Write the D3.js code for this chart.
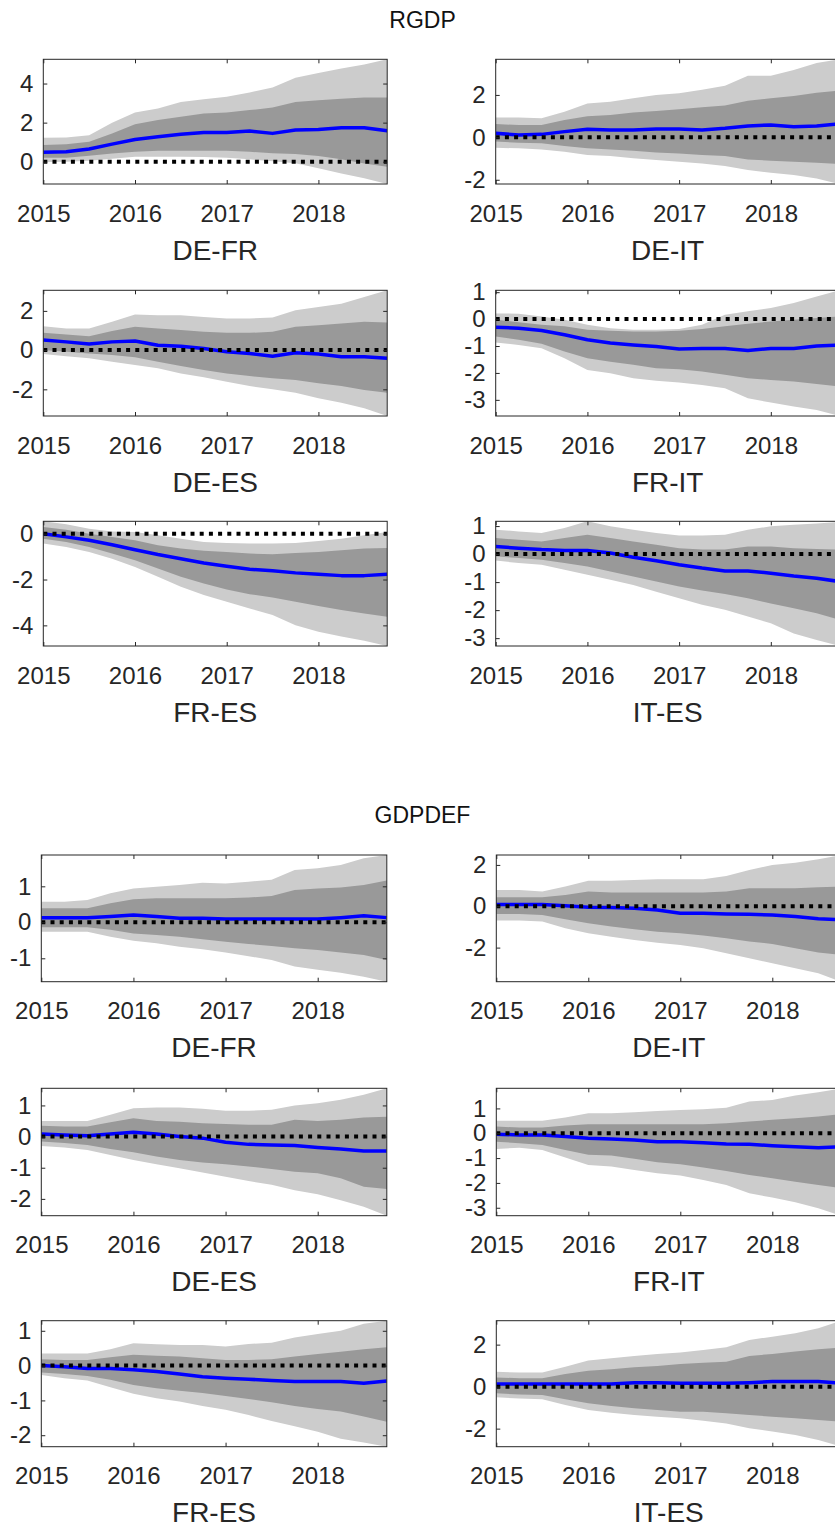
<!DOCTYPE html>
<html><head><meta charset="utf-8">
<script src="https://cdn.jsdelivr.net/npm/d3@7"></script>
<style>
body{margin:0;background:#fff}
svg{display:block}
text{font-family:"Liberation Sans",Arial,Helvetica,sans-serif}
</style>
</head><body>
<svg id="c" width="835" height="1529"></svg>
<script>
// ---------------- DATA ----------------
const quarters = [2015,2015.25,2015.5,2015.75,2016,2016.25,2016.5,2016.75,2017,2017.25,2017.5,2017.75,2018,2018.25,2018.5,2018.75];
const xTicks = [2015,2016,2017,2018];
const variables = ["RGDP","GDPDEF"];
const pairs = ["DE-FR","DE-IT","DE-ES","FR-IT","FR-ES","IT-ES"];
const RGDP_yTicks = [[0,2,4],[-2,0,2],[-2,0,2],[-3,-2,-1,0,1],[-4,-2,0],[-3,-2,-1,0,1]];
const GDPDEF_yTicks = [[-1,0,1],[-2,0,2],[-2,-1,0,1],[-3,-2,-1,0,1],[-2,-1,0,1],[-2,0,2]];

// RGDP DE-FR
const RGDP_DEFR_hi90 = [1.22,1.24,1.36,1.99,2.52,2.72,3.06,3.2,3.32,3.54,3.8,4.3,4.54,4.77,4.97,5.24];
const RGDP_DEFR_hi68 = [0.85,0.9,1.02,1.45,1.92,2.13,2.3,2.47,2.52,2.64,2.77,3.06,3.15,3.22,3.28,3.28];
const RGDP_DEFR_med  = [0.48,0.51,0.65,0.9,1.14,1.28,1.4,1.5,1.5,1.57,1.45,1.62,1.65,1.74,1.74,1.58];
const RGDP_DEFR_lo68 = [0.2,0.2,0.3,0.42,0.51,0.56,0.56,0.56,0.56,0.51,0.43,0.39,0.29,0.12,-0.09,-0.26];
const RGDP_DEFR_lo90 = [-0.02,0.0,0.05,0.15,0.25,0.26,0.26,0.24,0.2,0.12,0.02,-0.08,-0.34,-0.6,-0.85,-1.14];
// RGDP DE-IT
const RGDP_DEIT_hi90 = [0.94,0.94,0.9,1.21,1.6,1.68,1.84,2.0,2.08,2.24,2.43,2.9,2.9,3.18,3.5,3.68];
const RGDP_DEIT_hi68 = [0.63,0.58,0.58,0.82,1.0,1.05,1.17,1.24,1.32,1.42,1.5,1.72,1.84,1.95,2.1,2.2];
const RGDP_DEIT_med  = [0.19,0.11,0.14,0.27,0.38,0.35,0.35,0.39,0.39,0.35,0.43,0.54,0.58,0.5,0.54,0.63];
const RGDP_DEIT_lo68 = [-0.2,-0.25,-0.28,-0.41,-0.52,-0.57,-0.63,-0.71,-0.76,-0.83,-0.88,-1.04,-1.1,-1.15,-1.2,-1.26];
const RGDP_DEIT_lo90 = [-0.49,-0.52,-0.57,-0.68,-0.83,-0.88,-0.99,-1.07,-1.15,-1.23,-1.35,-1.54,-1.67,-1.78,-1.94,-2.2];
// RGDP DE-ES
const RGDP_DEES_hi90 = [1.22,1.1,1.1,1.44,1.81,1.78,1.78,1.69,1.61,1.61,1.66,2.03,2.2,2.37,2.71,3.05];
const RGDP_DEES_hi68 = [0.88,0.8,0.71,0.97,1.19,1.1,1.02,0.93,0.88,0.88,0.93,1.19,1.27,1.36,1.44,1.41];
const RGDP_DEES_med  = [0.51,0.42,0.31,0.42,0.46,0.25,0.2,0.08,-0.08,-0.17,-0.31,-0.14,-0.2,-0.34,-0.34,-0.42];
const RGDP_DEES_lo68 = [0,-0.08,-0.17,-0.25,-0.37,-0.59,-0.81,-1.02,-1.19,-1.32,-1.44,-1.53,-1.69,-1.83,-2.03,-2.17];
const RGDP_DEES_lo90 = [-0.2,-0.31,-0.42,-0.59,-0.76,-0.93,-1.19,-1.39,-1.61,-1.83,-2.0,-2.17,-2.46,-2.68,-2.97,-3.36];
// RGDP FR-IT
const RGDP_FRIT_hi90 = [0.21,0.2,0.1,-0.02,-0.21,-0.34,-0.4,-0.4,-0.37,-0.21,0.16,0.29,0.41,0.6,0.84,1.07];
const RGDP_FRIT_hi68 = [-0.02,-0.12,-0.21,-0.27,-0.4,-0.43,-0.46,-0.46,-0.43,-0.37,-0.27,-0.17,-0.09,-0.02,0.04,0.1];
const RGDP_FRIT_med  = [-0.3,-0.34,-0.42,-0.58,-0.77,-0.89,-0.96,-1.02,-1.11,-1.09,-1.09,-1.17,-1.09,-1.09,-1.0,-0.96];
const RGDP_FRIT_lo68 = [-0.65,-0.77,-0.92,-1.2,-1.45,-1.58,-1.7,-1.83,-1.86,-1.95,-2.07,-2.2,-2.26,-2.32,-2.41,-2.51];
const RGDP_FRIT_lo90 = [-0.87,-0.96,-1.08,-1.45,-1.89,-2.01,-2.2,-2.29,-2.36,-2.45,-2.57,-2.94,-3.1,-3.25,-3.38,-3.6];
// RGDP FR-ES
const RGDP_FRES_hi90 = [0.54,0.41,0.22,0.1,0.07,-0.07,-0.22,-0.36,-0.41,-0.43,-0.43,-0.41,-0.32,-0.22,-0.07,0.07];
const RGDP_FRES_hi68 = [0.29,0.17,0,-0.14,-0.29,-0.51,-0.65,-0.75,-0.8,-0.87,-0.9,-0.84,-0.8,-0.72,-0.65,-0.62];
const RGDP_FRES_med  = [0,-0.14,-0.29,-0.48,-0.7,-0.91,-1.09,-1.28,-1.42,-1.55,-1.62,-1.71,-1.77,-1.83,-1.83,-1.77];
const RGDP_FRES_lo68 = [-0.22,-0.36,-0.58,-0.87,-1.16,-1.52,-1.88,-2.17,-2.43,-2.64,-2.78,-2.97,-3.16,-3.33,-3.48,-3.62];
const RGDP_FRES_lo90 = [-0.43,-0.58,-0.8,-1.09,-1.45,-1.88,-2.32,-2.68,-2.97,-3.26,-3.55,-3.99,-4.28,-4.49,-4.67,-4.9];
// RGDP IT-ES
const RGDP_ITES_hi90 = [0.87,0.81,0.75,0.93,1.17,0.99,0.87,0.75,0.66,0.66,0.69,0.87,0.99,1.05,1.09,1.15];
const RGDP_ITES_hi68 = [0.57,0.51,0.45,0.57,0.69,0.57,0.45,0.33,0.21,0.16,0.16,0.27,0.27,0.21,0.18,0.16];
const RGDP_ITES_med  = [0.27,0.21,0.16,0.13,0.13,0.04,-0.11,-0.24,-0.38,-0.5,-0.6,-0.6,-0.68,-0.78,-0.86,-0.98];
const RGDP_ITES_lo68 = [-0.08,-0.14,-0.2,-0.32,-0.44,-0.62,-0.8,-0.98,-1.16,-1.3,-1.42,-1.58,-1.76,-1.93,-2.11,-2.35];
const RGDP_ITES_lo90 = [-0.23,-0.32,-0.38,-0.56,-0.74,-0.92,-1.1,-1.34,-1.58,-1.81,-1.99,-2.23,-2.47,-2.83,-3.07,-3.28];
// GDPDEF DE-FR
const GDPDEF_DEFR_hi90 = [0.57,0.57,0.62,0.81,0.94,0.99,1.04,1.1,1.08,1.13,1.18,1.45,1.5,1.59,1.78,1.87];
const GDPDEF_DEFR_hi68 = [0.39,0.39,0.39,0.53,0.64,0.67,0.67,0.67,0.67,0.69,0.73,0.9,0.94,0.97,1.04,1.16];
const GDPDEF_DEFR_med  = [0.13,0.13,0.13,0.16,0.2,0.16,0.11,0.11,0.09,0.09,0.09,0.09,0.09,0.13,0.18,0.13];
const GDPDEF_DEFR_lo68 = [-0.14,-0.14,-0.14,-0.21,-0.31,-0.35,-0.4,-0.47,-0.54,-0.6,-0.66,-0.72,-0.77,-0.84,-0.91,-1.05];
const GDPDEF_DEFR_lo90 = [-0.26,-0.26,-0.26,-0.4,-0.51,-0.58,-0.68,-0.75,-0.84,-0.94,-1.05,-1.23,-1.32,-1.4,-1.51,-1.65];
// GDPDEF DE-IT
const GDPDEF_DEIT_hi90 = [0.79,0.79,0.71,0.95,1.24,1.24,1.27,1.31,1.31,1.31,1.47,1.76,2.0,2.11,2.27,2.48];
const GDPDEF_DEIT_hi68 = [0.44,0.44,0.44,0.55,0.71,0.66,0.66,0.66,0.66,0.66,0.71,0.87,0.87,0.87,0.92,0.95];
const GDPDEF_DEIT_med  = [0.08,0.08,0.08,0.02,-0.05,-0.06,-0.1,-0.18,-0.34,-0.34,-0.37,-0.39,-0.42,-0.5,-0.6,-0.66];
const GDPDEF_DEIT_lo68 = [-0.37,-0.37,-0.42,-0.63,-0.82,-0.98,-1.11,-1.23,-1.31,-1.42,-1.55,-1.71,-1.82,-2.03,-2.24,-2.35];
const GDPDEF_DEIT_lo90 = [-0.69,-0.69,-0.74,-1.06,-1.31,-1.47,-1.63,-1.76,-1.87,-2.03,-2.27,-2.52,-2.76,-3.0,-3.24,-3.65];
// GDPDEF DE-ES
const GDPDEF_DEES_hi90 = [0.5,0.5,0.5,0.7,0.91,0.93,0.93,0.89,0.83,0.83,0.86,1.0,1.07,1.18,1.34,1.55];
const GDPDEF_DEES_hi68 = [0.35,0.32,0.32,0.46,0.59,0.5,0.48,0.43,0.4,0.38,0.38,0.54,0.5,0.54,0.61,0.64];
const GDPDEF_DEES_med  = [0.08,0.05,0.03,0.08,0.14,0.08,0,-0.05,-0.18,-0.25,-0.27,-0.29,-0.35,-0.4,-0.46,-0.46];
const GDPDEF_DEES_lo68 = [-0.16,-0.21,-0.27,-0.4,-0.5,-0.64,-0.75,-0.83,-0.89,-0.96,-1.04,-1.13,-1.18,-1.34,-1.61,-1.68];
const GDPDEF_DEES_lo90 = [-0.3,-0.35,-0.43,-0.59,-0.75,-0.89,-1.02,-1.15,-1.29,-1.43,-1.55,-1.72,-1.85,-2.04,-2.25,-2.54];
// GDPDEF FR-IT
const GDPDEF_FRIT_hi90 = [0.5,0.5,0.5,0.63,0.81,0.81,0.85,0.9,0.94,0.97,1.03,1.28,1.34,1.52,1.65,1.81];
const GDPDEF_FRIT_hi68 = [0.27,0.23,0.23,0.31,0.36,0.36,0.36,0.36,0.36,0.36,0.4,0.47,0.54,0.6,0.67,0.77];
const GDPDEF_FRIT_med  = [-0.04,-0.07,-0.07,-0.13,-0.2,-0.23,-0.27,-0.34,-0.34,-0.38,-0.43,-0.44,-0.5,-0.54,-0.58,-0.54];
const GDPDEF_FRIT_lo68 = [-0.34,-0.4,-0.47,-0.67,-0.87,-0.9,-1.03,-1.17,-1.25,-1.38,-1.52,-1.68,-1.81,-1.95,-2.08,-2.21];
const GDPDEF_FRIT_lo90 = [-0.63,-0.58,-0.67,-0.98,-1.28,-1.34,-1.48,-1.61,-1.7,-1.88,-2.08,-2.42,-2.59,-2.78,-3.02,-3.32];
// GDPDEF FR-ES
const GDPDEF_FRES_hi90 = [0.35,0.35,0.35,0.47,0.64,0.61,0.59,0.59,0.55,0.62,0.66,0.81,0.91,1.0,1.2,1.29];
const GDPDEF_FRES_hi68 = [0.18,0.16,0.16,0.24,0.31,0.28,0.26,0.21,0.16,0.16,0.18,0.26,0.33,0.4,0.47,0.53];
const GDPDEF_FRES_med  = [0,-0.03,-0.08,-0.08,-0.12,-0.17,-0.24,-0.32,-0.36,-0.39,-0.43,-0.46,-0.46,-0.46,-0.51,-0.44];
const GDPDEF_FRES_lo68 = [-0.2,-0.24,-0.3,-0.41,-0.56,-0.65,-0.72,-0.79,-0.87,-0.96,-1.05,-1.16,-1.25,-1.32,-1.46,-1.61];
const GDPDEF_FRES_lo90 = [-0.27,-0.36,-0.43,-0.62,-0.81,-0.94,-1.03,-1.16,-1.27,-1.42,-1.59,-1.74,-1.9,-2.1,-2.21,-2.33];
// GDPDEF IT-ES
const GDPDEF_ITES_hi90 = [0.71,0.67,0.67,0.95,1.24,1.35,1.46,1.56,1.62,1.75,1.87,2.22,2.38,2.54,2.78,3.14];
const GDPDEF_ITES_hi68 = [0.44,0.4,0.4,0.6,0.76,0.83,0.92,0.98,1.08,1.14,1.19,1.46,1.56,1.67,1.78,1.87];
const GDPDEF_ITES_med  = [0.13,0.13,0.13,0.13,0.13,0.13,0.19,0.19,0.16,0.16,0.16,0.19,0.24,0.24,0.24,0.16];
const GDPDEF_ITES_lo68 = [-0.32,-0.37,-0.4,-0.6,-0.79,-0.92,-1.03,-1.11,-1.19,-1.19,-1.27,-1.35,-1.43,-1.51,-1.59,-1.67];
const GDPDEF_ITES_lo90 = [-0.51,-0.56,-0.6,-0.87,-1.11,-1.24,-1.35,-1.43,-1.51,-1.62,-1.75,-1.98,-2.14,-2.3,-2.54,-2.86];

// ---------------- ASSEMBLY ----------------
const panelData = {
  RGDP: [
    [RGDP_DEFR_lo90,RGDP_DEFR_lo68,RGDP_DEFR_med,RGDP_DEFR_hi68,RGDP_DEFR_hi90],
    [RGDP_DEIT_lo90,RGDP_DEIT_lo68,RGDP_DEIT_med,RGDP_DEIT_hi68,RGDP_DEIT_hi90],
    [RGDP_DEES_lo90,RGDP_DEES_lo68,RGDP_DEES_med,RGDP_DEES_hi68,RGDP_DEES_hi90],
    [RGDP_FRIT_lo90,RGDP_FRIT_lo68,RGDP_FRIT_med,RGDP_FRIT_hi68,RGDP_FRIT_hi90],
    [RGDP_FRES_lo90,RGDP_FRES_lo68,RGDP_FRES_med,RGDP_FRES_hi68,RGDP_FRES_hi90],
    [RGDP_ITES_lo90,RGDP_ITES_lo68,RGDP_ITES_med,RGDP_ITES_hi68,RGDP_ITES_hi90]
  ],
  GDPDEF: [
    [GDPDEF_DEFR_lo90,GDPDEF_DEFR_lo68,GDPDEF_DEFR_med,GDPDEF_DEFR_hi68,GDPDEF_DEFR_hi90],
    [GDPDEF_DEIT_lo90,GDPDEF_DEIT_lo68,GDPDEF_DEIT_med,GDPDEF_DEIT_hi68,GDPDEF_DEIT_hi90],
    [GDPDEF_DEES_lo90,GDPDEF_DEES_lo68,GDPDEF_DEES_med,GDPDEF_DEES_hi68,GDPDEF_DEES_hi90],
    [GDPDEF_FRIT_lo90,GDPDEF_FRIT_lo68,GDPDEF_FRIT_med,GDPDEF_FRIT_hi68,GDPDEF_FRIT_hi90],
    [GDPDEF_FRES_lo90,GDPDEF_FRES_lo68,GDPDEF_FRES_med,GDPDEF_FRES_hi68,GDPDEF_FRES_hi90],
    [GDPDEF_ITES_lo90,GDPDEF_ITES_lo68,GDPDEF_ITES_med,GDPDEF_ITES_hi68,GDPDEF_ITES_hi90]
  ]
};
const yTicksByVar = {RGDP: RGDP_yTicks, GDPDEF: GDPDEF_yTicks};

// ---------------- LAYOUT ----------------
const layout = [
  {titleY: 28.3, cols: [[43.3,387.2],[495.7,839.6]], rows: [[59.3,184],[290.3,416],[521.3,646]]},
  {titleY: 823,  cols: [[41.3,386.8],[496.3,841.3]], rows: [[855,981.7],[1088.3,1215.7],[1320.7,1446.7]]}
];
const AX = "#262626";
const FONT = '"Liberation Sans",Arial,Helvetica,sans-serif';
const svg = d3.select("#c");

variables.forEach((v, gi) => {
  const L = layout[gi];
  svg.append("text").attr("x", 422.5).attr("y", L.titleY)
    .attr("text-anchor","middle").attr("font-size",23).attr("fill","#111").text(v);

  pairs.forEach((p, i) => {
    const r = Math.floor(i/2), c = i % 2;
    const [xl, xr] = L.cols[c];
    const [yt, yb] = L.rows[r];
    const [lo90, lo68, med, hi68, hi90] = panelData[v][i];
    const all = [].concat(lo90, lo68, med, hi68, hi90);
    const x = d3.scaleLinear().domain(d3.extent(quarters)).range([xl, xr]);
    const y = d3.scaleLinear().domain(d3.extent(all)).range([yb, yt]);

    const g = svg.append("g");
    const cid = `clip-${gi}-${i}`;
    g.append("clipPath").attr("id", cid).append("rect")
      .attr("x", xl).attr("y", yt).attr("width", xr-xl).attr("height", yb-yt);
    const pg = g.append("g").attr("clip-path", `url(#${cid})`);

    const band = (lo, hi) => d3.area()
      .x((d,k) => x(quarters[k])).y0((d,k) => y(lo[k])).y1((d,k) => y(hi[k]))(quarters);
    pg.append("path").attr("d", band(lo90, hi90)).attr("fill", "#cccccc");
    pg.append("path").attr("d", band(lo68, hi68)).attr("fill", "#999999");
    pg.append("path")
      .attr("d", d3.line().x((d,k) => x(quarters[k])).y((d,k) => y(med[k]))(quarters))
      .attr("fill","none").attr("stroke","#0000ff").attr("stroke-width",3.5).attr("stroke-linejoin","round");
    pg.append("path")
      .attr("d", d3.line().x(d => x(d)).y(() => y(0))(d3.extent(quarters)))
      .attr("fill","none").attr("stroke","#000").attr("stroke-width",4)
      .attr("stroke-dasharray","4 5.2");

    const yTicks = yTicksByVar[v][i];
    const styleAxis = sel => {
      sel.select(".domain").remove();
      sel.attr("font-size",24).attr("font-family",FONT).attr("color",AX);
      sel.selectAll("line").attr("stroke",AX);
    };
    g.append("g").attr("transform",`translate(0,${yb})`)
      .call(d3.axisBottom(x).tickValues(xTicks).tickSizeInner(-4).tickSizeOuter(0).tickPadding(20.7).tickFormat(d3.format("d")))
      .call(styleAxis);
    g.append("g").attr("transform",`translate(0,${yt})`)
      .call(d3.axisTop(x).tickValues(xTicks).tickSizeInner(-4).tickSizeOuter(0).tickFormat(() => ""))
      .call(styleAxis);
    g.append("g").attr("transform",`translate(${xl},0)`)
      .call(d3.axisLeft(y).tickValues(yTicks).tickSizeInner(-4).tickSizeOuter(0).tickPadding(10).tickFormat(d => String(d)))
      .call(styleAxis);
    g.append("g").attr("transform",`translate(${xr},0)`)
      .call(d3.axisRight(y).tickValues(yTicks).tickSizeInner(-4).tickSizeOuter(0).tickFormat(() => ""))
      .call(styleAxis);
    g.append("rect").attr("x", xl).attr("y", yt).attr("width", xr-xl).attr("height", yb-yt)
      .attr("fill","none").attr("stroke",AX).attr("stroke-width",1);

    g.append("text").attr("x", (xl+xr)/2).attr("y", yb + 75.5)
      .attr("text-anchor","middle").attr("font-size",28).attr("fill",AX).text(p);
  });
});
</script>
</body></html>
